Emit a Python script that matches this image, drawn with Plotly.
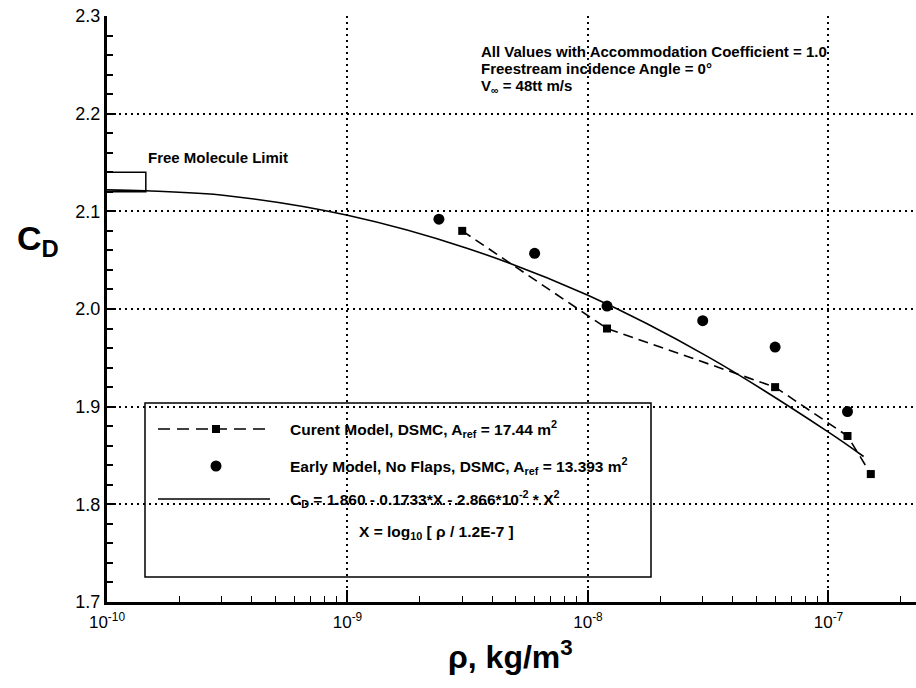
import plotly.graph_objects as go

# ---------------- data ----------------
# Current model, DSMC (squares, dashed)
cur_rho = [3e-9, 1.2e-8, 6e-8, 1.2e-7, 1.5e-7]
cur_cd = [2.080, 1.980, 1.920, 1.870, 1.831]

# Early model, no flaps, DSMC (circles)
early_rho = [2.4e-9, 6e-9, 1.2e-8, 3e-8, 6e-8, 1.2e-7]
early_cd = [2.092, 2.057, 2.003, 1.988, 1.961, 1.895]

# Curve-fit line
fit_rho = [1.0e-10, 1.45e-10, 3.16e-10, 1.0e-9, 3.16e-9, 1.0e-8, 3.16e-8, 1.0e-7, 1.4e-7]
fit_cd = [2.122, 2.121, 2.116, 2.096, 2.062, 2.014, 1.951, 1.874, 1.849]

# Free molecule limit box
fm_rho = [1.0e-10, 1.45e-10, 1.45e-10, 1.0e-10]
fm_cd = [2.140, 2.140, 2.120, 2.120]

# axis ticks
x_tickvals = [1e-10, 1e-9, 1e-8, 1e-7]
x_ticktext = ["10<sup>-10</sup>", "10<sup>-9</sup>", "10<sup>-8</sup>", "10<sup>-7</sup>"]
x_minor = [k * 10.0 ** e for e in range(-10, -6) for k in range(2, 10)]
y_tickvals = [1.7, 1.8, 1.9, 2.0, 2.1, 2.2, 2.3]
y_ticktext = ["1.7", "1.8", "1.9", "2.0", "2.1", "2.2", "2.3"]
y_minor = [round(1.7 + 0.02 * i, 2) for i in range(31) if i % 5 != 0]

# ---------------- layout geometry ----------------
W, H = 916, 688
L, T = 107, 16
PW, PH = W - L, 586


def px(x):
    return (x - L) / PW


def py(y):
    return (T + PH - y) / PH


FONT = "Liberation Sans, Arial, Helvetica, sans-serif"
GRID_DASH = "2px,4px"

fig = go.Figure()

fig.add_trace(go.Scatter(x=fm_rho, y=fm_cd, mode="lines",
                         line=dict(color="black", width=1.5), showlegend=False,
                         hoverinfo="skip"))
fig.add_trace(go.Scatter(x=fit_rho, y=fit_cd, mode="lines", line_shape="spline",
                         line=dict(color="black", width=1.6), showlegend=False))
fig.add_trace(go.Scatter(x=cur_rho, y=cur_cd, mode="lines+markers",
                         line=dict(color="black", width=1.6, dash="10px,6px"),
                         marker=dict(symbol="square", size=8, color="black"),
                         showlegend=False))
fig.add_trace(go.Scatter(x=early_rho, y=early_cd, mode="markers",
                         marker=dict(symbol="circle", size=11, color="black"),
                         showlegend=False))

shapes = []
# legend box
shapes.append(dict(type="rect", xref="paper", yref="paper",
                   x0=px(145), x1=px(651), y0=py(403), y1=py(577),
                   line=dict(color="black", width=1.5)))
# legend samples
shapes.append(dict(type="line", xref="paper", yref="paper",
                   x0=px(158), x1=px(270), y0=py(429), y1=py(429),
                   line=dict(color="black", width=1.6, dash="12px,7px")))
shapes.append(dict(type="rect", xref="paper", yref="paper",
                   x0=px(212), x1=px(220), y0=py(425), y1=py(433),
                   fillcolor="black", line=dict(color="black", width=0)))
shapes.append(dict(type="circle", xref="paper", yref="paper",
                   x0=px(210.5), x1=px(221.5), y0=py(460.5), y1=py(471.5),
                   fillcolor="black", line=dict(color="black", width=0)))
shapes.append(dict(type="line", xref="paper", yref="paper",
                   x0=px(158), x1=px(270), y0=py(499), y1=py(499),
                   line=dict(color="black", width=1.6)))

ann = []


def text(x, y, s, size=15, xanchor="left", bold=True):
    ann.append(dict(x=px(x), y=py(y), xref="paper", yref="paper", text=("<b>%s</b>" % s) if bold else s,
                    showarrow=False, xanchor=xanchor, yanchor="middle",
                    font=dict(family=FONT, size=size, color="black")))


text(288, 429, "Curent Model, DSMC, A<sub>ref</sub> = 17.44 m<sup>2</sup>", size=15.5)
text(288, 466, "Early Model, No Flaps, DSMC, A<sub>ref</sub> = 13.393 m<sup>2</sup>", size=15.5)
text(288, 499, "C<sub>D</sub> = 1.860 - 0.1733*X - 2.866*10<sup>-2</sup> * X<sup>2</sup>", size=15.5)
text(436, 532, "X = log<sub>10</sub> [ ρ / 1.2E-7 ]", xanchor="center", size=15.5)

text(479, 51, "All Values with Accommodation Coefficient = 1.0")
text(479, 68, "Freestream incidence Angle = 0°")
text(479, 86, "V<sub>∞</sub> = 48tt m/s")

text(146, 157, "Free Molecule Limit")

text(38, 240, "C<sub>D</sub>", size=34, xanchor="center")
text(510, 655, "ρ, kg/m<sup>3</sup>", size=32, xanchor="center")

fig.update_layout(
    width=W, height=H,
    margin=dict(l=L, r=0, t=T, b=H - T - PH),
    paper_bgcolor="white", plot_bgcolor="white",
    shapes=shapes, annotations=ann,
    font=dict(family=FONT, size=17, color="black"),
)

fig.update_xaxes(type="log", range=[-10, -6.636],
                 tickmode="array", tickvals=x_tickvals, ticktext=x_ticktext,
                 ticks="inside", ticklen=12, tickwidth=1.5, tickcolor="black",
                 showgrid=True, gridcolor="black", griddash=GRID_DASH, gridwidth=1.5,
                 showline=True, linecolor="black", linewidth=3,
                 zeroline=False, ticklabelstandoff=3,
                 minor=dict(tickmode="array", tickvals=x_minor, ticks="inside",
                            ticklen=6, tickwidth=1.2, tickcolor="black", showgrid=False),
                 tickfont=dict(family=FONT, size=17))
fig.update_yaxes(range=[1.7, 2.3], tickmode="array", tickvals=y_tickvals, ticktext=y_ticktext,
                 ticks="inside", ticklen=9, tickwidth=2, tickcolor="black",
                 showgrid=True, gridcolor="black", griddash=GRID_DASH, gridwidth=1.5,
                 showline=True, linecolor="black", linewidth=3,
                 zeroline=False,
                 minor=dict(tickmode="array", tickvals=y_minor, ticks="inside", ticklen=6,
                            tickwidth=1.5, tickcolor="black", showgrid=False),
                 tickfont=dict(family=FONT, size=18))

fig.write_html("out.html")
